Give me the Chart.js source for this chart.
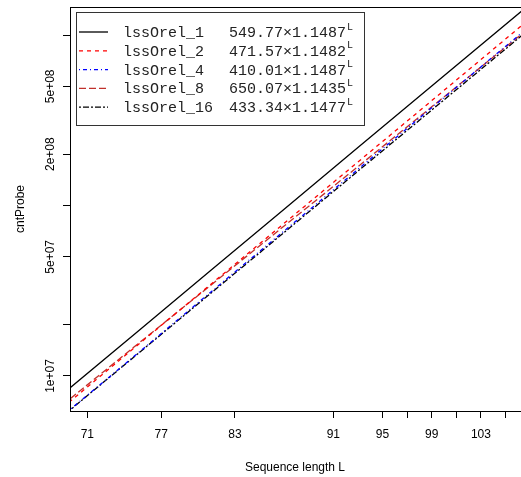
<!DOCTYPE html>
<html>
<head>
<meta charset="utf-8">
<script src="https://cdn.jsdelivr.net/npm/chart.js@4"></script>
<style>
  html, body { margin: 0; padding: 0; background: #fff; }
</style>
</head>
<body>
<canvas id="c" width="521" height="477"></canvas>
<script>
const seqLen = [69, 75, 81, 87, 93, 99, 107];
const orel1 = [7.84e6, 1.80e7, 4.14e7, 9.51e7, 2.19e8, 5.02e8, 1.52e9];
const orel2 = [6.53e6, 1.50e7, 3.43e7, 7.86e7, 1.80e8, 4.12e8, 1.25e9];
const orel4 = [5.85e6, 1.34e7, 3.09e7, 7.09e7, 1.63e8, 3.74e8, 1.13e9];
const orel8 = [6.78e6, 1.52e7, 3.39e7, 7.58e7, 1.69e8, 3.79e8, 1.11e9];
const orel16 = [5.82e6, 1.33e7, 3.04e7, 6.95e7, 1.59e8, 3.63e8, 1.09e9];

const seriesNames = ['lssOrel_1', 'lssOrel_2', 'lssOrel_4', 'lssOrel_8', 'lssOrel_16'];
const fitLabels = ['549.77\u00d71.1487', '471.57\u00d71.1482', '410.01\u00d71.1487', '650.07\u00d71.1435', '433.34\u00d71.1477'];

const xTickVals = [71, 77, 83, 91, 95, 97, 99, 101, 103, 105];
const xTickText = ['71', '77', '83', '91', '95', '', '99', '', '103', ''];
const yTickVals = [1e7, 2e7, 5e7, 1e8, 2e8, 5e8, 1e9];
const yTickText = ['1e+07', '', '5e+07', '', '2e+08', '5e+08', ''];

const styles = [
  { color: '#000000', dash: [] },
  { color: '#ff0000', dash: [4, 4] },
  { color: '#0000ff', dash: [1, 3, 4, 3] },
  { color: '#c0302b', dash: [7, 3] },
  { color: '#000000', dash: [2, 2, 6, 2] },
];

const sans = "'Liberation Sans', Arial, sans-serif";
const mono = "'Liberation Mono', 'Courier New', monospace";

function toPoints(vals) {
  return vals.map((v, i) => ({ x: seqLen[i], y: v }));
}

const allSeries = [orel1, orel2, orel4, orel8, orel16];
const datasets = allSeries.map((vals, i) => ({
  label: seriesNames[i],
  data: toPoints(vals),
  borderColor: styles[i].color,
  borderDash: styles[i].dash,
  borderWidth: 1.3,
  pointRadius: 0,
  fill: false,
  tension: 0,
}));

const decorations = {
  id: 'decorations',
  afterDraw(chart) {
    const ctx = chart.ctx;
    const a = chart.chartArea;
    const yScale = chart.scales.y;
    ctx.save();
    // box round the plot (right side falls off the canvas, as in the original)
    ctx.strokeStyle = '#000';
    ctx.lineWidth = 1;
    ctx.setLineDash([]);
    ctx.strokeRect(Math.round(a.left) + 0.5, Math.round(a.top) + 0.5,
      Math.round(a.right - a.left) + 2, Math.round(a.bottom - a.top));

    // y tick labels, vertical like R
    ctx.fillStyle = '#000';
    ctx.font = '12px ' + sans;
    ctx.textAlign = 'center';
    ctx.textBaseline = 'alphabetic';
    yTickVals.forEach((v, i) => {
      if (!yTickText[i]) return;
      const py = yScale.getPixelForValue(v);
      ctx.save();
      ctx.translate(54, py);
      ctx.rotate(-Math.PI / 2);
      ctx.fillText(yTickText[i], 0, 0);
      ctx.restore();
    });

    // axis titles
    ctx.save();
    ctx.translate(24, (a.top + a.bottom) / 2);
    ctx.rotate(-Math.PI / 2);
    ctx.fillText('cntProbe', 0, 0);
    ctx.restore();
    ctx.textBaseline = 'middle';
    ctx.fillText('Sequence length L', 295, 468);

    // legend
    const lx = 76, ly = 12, lw = 288, lh = 113;
    ctx.fillStyle = '#fff';
    ctx.fillRect(lx, ly, lw, lh);
    ctx.strokeStyle = '#333';
    ctx.strokeRect(lx + 0.5, ly + 0.5, lw, lh);
    chart.data.datasets.forEach((ds, i) => {
      const ry = 32 + i * 18.8;
      ctx.strokeStyle = ds.borderColor;
      ctx.lineWidth = 1.3;
      ctx.setLineDash(ds.borderDash);
      ctx.beginPath();
      ctx.moveTo(79, ry);
      ctx.lineTo(108, ry);
      ctx.stroke();
      ctx.setLineDash([]);
      ctx.fillStyle = '#222';
      ctx.font = '15px ' + mono;
      ctx.textAlign = 'left';
      ctx.textBaseline = 'middle';
      ctx.fillText(seriesNames[i], 123, ry + 1);
      ctx.fillText(fitLabels[i], 229, ry + 1);
      const w = ctx.measureText(fitLabels[i]).width;
      ctx.font = '10px ' + mono;
      ctx.fillText('L', 229 + w + 1, ry - 5);
    });
    ctx.restore();
  },
};

new Chart(document.getElementById('c'), {
  type: 'line',
  data: { datasets },
  options: {
    responsive: false,
    animation: false,
    devicePixelRatio: 1,
    layout: { padding: { top: 7, right: 0, left: 0, bottom: 0 } },
    plugins: { legend: { display: false }, tooltip: { enabled: false } },
    scales: {
      x: {
        type: 'linear',
        min: 69.59,
        max: 106.26,
        afterBuildTicks: (s) => { s.ticks = xTickVals.map((v) => ({ value: v })); },
        afterFit: (s) => { s.height = 66; },
        ticks: {
          autoSkip: false,
          maxRotation: 0,
          minRotation: 0,
          padding: 9,
          color: '#000',
          font: { family: sans, size: 12 },
          callback: (v) => xTickText[xTickVals.indexOf(v)],
        },
        grid: { drawOnChartArea: false, drawTicks: true, tickLength: 7, color: '#000' },
        border: { display: true, color: '#000' },
      },
      y: {
        type: 'logarithmic',
        min: 6.232e6,
        max: 1.46e9,
        afterBuildTicks: (s) => { s.ticks = yTickVals.map((v) => ({ value: v })); },
        afterFit: (s) => { s.width = 70; },
        ticks: { display: false },
        grid: { drawOnChartArea: false, drawTicks: true, tickLength: 7, color: '#000' },
        border: { display: true, color: '#000' },
      },
    },
  },
  plugins: [decorations],
});
</script>
</body>
</html>
